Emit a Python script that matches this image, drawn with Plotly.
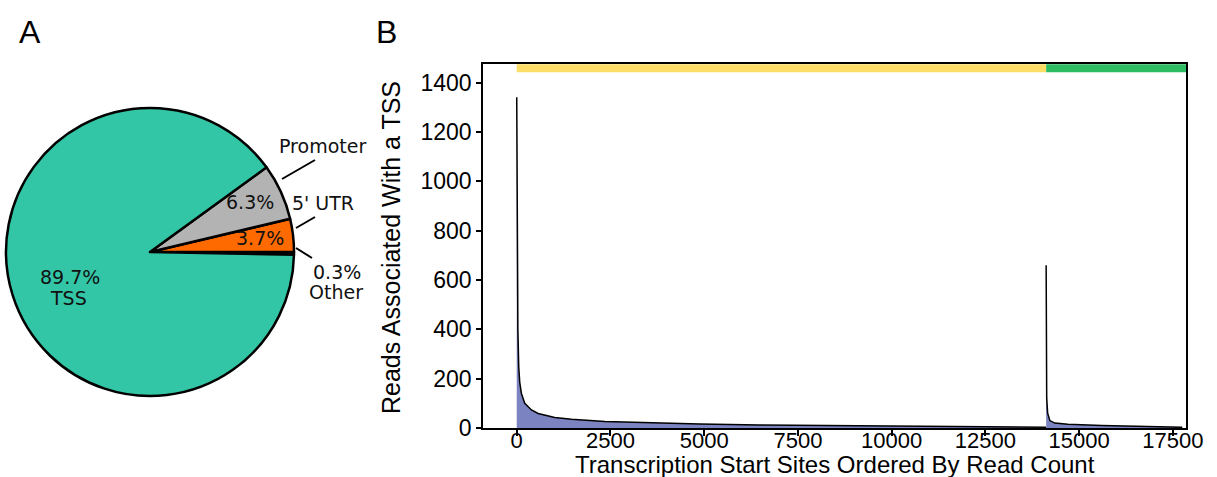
import plotly.graph_objects as go

W, H = 1217, 477

# ---- Panel A data ----
pie_labels = ["Other", "5' UTR", "Promoter", "TSS"]
pie_values = [0.3, 3.7, 6.3, 89.7]
pie_colors = ["#000000", "#ff6a00", "#b3b3b3", "#33c6a6"]

# ---- Panel B data (ranked read counts) ----
rank_a = [0, 5, 15, 30, 53, 80, 125, 213, 392, 570, 1014, 1460, 2350, 3230,
          4880, 6480, 8500, 10210, 12000, 13500, 14120]
reads_a = [1340, 900, 550, 400, 248, 185, 140, 100, 73, 59, 43, 35, 26, 22,
           16, 12, 9, 7, 5, 4, 3]
rank_b = [14120, 14125, 14135, 14160, 14220, 14350, 14700, 15600, 16930, 17750]
reads_b = [660, 300, 120, 60, 30, 20, 15, 10, 6, 3]

group_x = [[0, 14120], [14120, 17900]]
group_colors = ["#fcdd68", "#2ebd63"]
group_level = 1458

x_ticks = [0, 2500, 5000, 7500, 10000, 12500, 15000, 17500]
x_ticktext = ["0", "2500", "5000", "7500", "10000", "12500", "15000", "17500"]
y_ticks = [0, 200, 400, 600, 800, 1000, 1200, 1400]


def px(x):
    return x / W


def py(y):
    return 1 - y / H


fig = go.Figure()

# Pie
cx, cy, r = 150, 252, 144
fig.add_trace(go.Pie(
    labels=pie_labels, values=pie_values, sort=False,
    direction="counterclockwise", rotation=90,
    marker=dict(colors=pie_colors, line=dict(color="black", width=2.5)),
    textinfo="none", hoverinfo="label+percent", showlegend=False,
    domain=dict(x=[px(cx - r), px(cx + r)], y=[py(cy + r), py(cy - r)]),
))

# Area series
fig.add_trace(go.Scatter(x=rank_a, y=reads_a, mode="lines", fill="tozeroy",
                         fillcolor="#7b83c0", line=dict(color="black", width=1.5),
                         showlegend=False, xaxis="x", yaxis="y"))
fig.add_trace(go.Scatter(x=rank_b, y=reads_b, mode="lines", fill="tozeroy",
                         fillcolor="#7b83c0", line=dict(color="black", width=1.5),
                         showlegend=False, xaxis="x", yaxis="y"))
for gx, gc in zip(group_x, group_colors):
    fig.add_trace(go.Scatter(x=gx, y=[group_level, group_level], mode="lines",
                             line=dict(color=gc, width=8), showlegend=False,
                             xaxis="x", yaxis="y"))

ann = []
dj = "DejaVu Sans"


def txt(x, y, t, size=19, font=dj, color="#111111", angle=0):
    ann.append(dict(x=px(x), y=py(y), xref="paper", yref="paper", text=t,
                    showarrow=False, xanchor="center", yanchor="middle",
                    textangle=angle, borderpad=0,
                    font=dict(family=font, size=size, color=color)))


txt(30, 32, "A", 32, "Liberation Sans", "black")
txt(386, 32, "B", 32, "Liberation Sans", "black")
txt(250, 202, "6.3%")
txt(260, 238, "3.7%")
txt(70, 277, "89.7%")
txt(68, 298, "TSS")
txt(322, 146, "Promoter")
txt(323, 203, "5' UTR")
txt(337, 272, "0.3%")
txt(336, 292, "Other")
txt(835, 464, "Transcription Start Sites Ordered By Read Count", 24,
    "Liberation Sans", "black")
txt(391, 248, "Reads Associated With a TSS", 25, "Liberation Sans", "black", -90)

shapes = []
for (x0, y0, x1, y1) in [(282, 179, 315, 160), (296, 228, 315, 217), (296, 248, 312, 258)]:
    shapes.append(dict(type="line", xref="paper", yref="paper",
                       x0=px(x0), y0=py(y0), x1=px(x1), y1=py(y1),
                       line=dict(color="black", width=2)))

axfont = dict(family="Liberation Sans", size=23, color="black")
xfont = dict(family="Liberation Sans", size=22, color="black")
fig.update_layout(
    width=W, height=H, margin=dict(l=0, r=0, t=0, b=0),
    paper_bgcolor="white", plot_bgcolor="white",
    annotations=ann, shapes=shapes,
    xaxis=dict(domain=[px(483), px(1186)], range=[-900, 17850],
               tickvals=x_ticks, ticktext=x_ticktext, ticks="outside", ticklen=6,
               tickwidth=1.5, tickcolor="black", showgrid=False, zeroline=False,
               showline=True, linecolor="black", linewidth=1.5, mirror=True,
               tickfont=xfont, automargin=False, ticklabelstandoff=-14,
               anchor="y"),
    yaxis=dict(domain=[py(428), py(64)], range=[0, 1475],
               tickvals=y_ticks, ticks="outside", ticklen=5, tickwidth=1.5,
               tickcolor="black", showgrid=False, zeroline=False,
               showline=True, linecolor="black", linewidth=1.5, mirror=True,
               tickfont=axfont, automargin=False,
               anchor="x"),
)

fig.write_html("out.html")
